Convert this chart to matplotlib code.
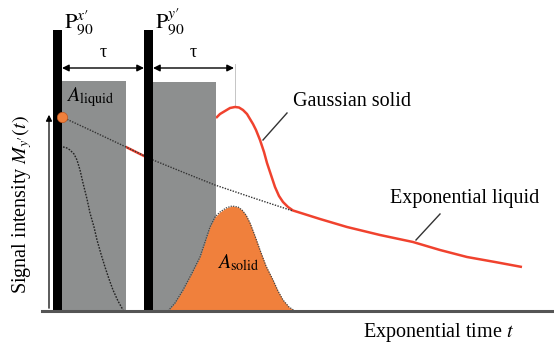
import numpy as np
import matplotlib
matplotlib.use("Agg")
import matplotlib.pyplot as plt
from matplotlib.patches import Rectangle, FancyArrowPatch

plt.rcParams['font.family'] = ['Liberation Serif', 'DejaVu Serif']
plt.rcParams['mathtext.fontset'] = 'stix'

# time axis in arbitrary units, signal measured above the baseline
# pulses (left edge, right edge, height)
pulse_x = [(53, 62), (144, 153)]
pulse_top = 281
# acquisition windows (dead time shading)
window_x = [(62, 126), (153, 216)]
window_top = [230, 229]

# liquid exponential decay (dotted reference)
t_liq = [62, 90, 126, 153, 185, 215, 255, 293]
s_liq = [194, 181, 164, 151, 138, 126, 112.5, 100]

# measured signal, gap between the windows
t_gap = [126, 144]
s_gap = [164, 155]

# measured signal after the second pulse: solid echo + liquid tail
t_sig = [216, 220, 225, 230, 235, 239, 243, 247, 250, 253, 256, 260, 264, 267,
         271, 275, 279, 283, 288, 293, 320, 347, 380, 413, 440, 467, 495, 522]
s_sig = [193, 197, 200, 203, 204, 203.5, 201, 197, 192, 187, 181, 171, 159, 148,
         136, 124, 115, 109, 104, 100.5, 92, 84, 76, 69, 61, 54, 49, 44]

# solid gaussian echo area
t_sol = [168, 175, 183, 192, 200, 205, 210, 215, 220, 226, 232, 238, 242, 246,
         250, 255, 260, 266, 273, 278, 283, 289, 295]
s_sol = [0, 8, 21, 38, 54, 69, 84, 94, 99, 103, 105, 104, 101, 96,
         88, 75, 61, 45, 31, 20, 11, 4, 0]

# solid FID decaying during the first dead time
t_fid = [63, 66, 70, 74, 77, 80, 83, 87, 90, 94, 97, 101, 105, 109, 113, 118, 123]
s_fid = [164, 163.5, 161, 157, 151, 141, 128, 112, 98, 84, 71, 57, 44, 32, 21, 10, 1]

red = '#f0422e'
orange = '#f0803c'
gray = '#8d8f8f'
fs = 14.5

fig = plt.figure(figsize=(5.54, 3.45), dpi=100)
ax = fig.add_axes([0, 0, 1, 1])
ax.set_xlim(0, 554)
ax.set_ylim(-34, 311)
ax.axis('off')

# signal curves (below the shading)
ax.plot(t_gap, s_gap, color=red, lw=1.8, zorder=2)
ax.plot(t_sig, s_sig, color=red, lw=1.8, zorder=2, solid_capstyle='butt')

for (x0, x1), top in zip(window_x, window_top):
    ax.add_patch(Rectangle((x0, 0), x1 - x0, top, facecolor=gray,
                           edgecolor='none', zorder=3))

ax.fill_between(t_sol, 0, s_sol, color=orange, lw=0, zorder=4)
ax.plot(t_sol, s_sol, color='#444444', lw=0.9, ls=(0, (1, 1)), zorder=5)
ax.plot(t_fid, s_fid, color='#222222', lw=1.0, ls=(0, (1.2, 1)), zorder=5)
ax.plot(t_liq, s_liq, color='#333333', lw=1.0, ls=(0, (1, 1)), zorder=5)

for x0, x1 in pulse_x:
    ax.add_patch(Rectangle((x0, 0), x1 - x0, pulse_top, facecolor='black',
                           edgecolor='none', zorder=6))

# baseline and signal axis
ax.plot([42, 554], [0, 0], color='#555555', lw=2.2, zorder=7)
ax.add_patch(FancyArrowPatch((49, 0), (49, 199), arrowstyle='-|>',
                             mutation_scale=9, color='black', lw=0.9, zorder=7))

ax.scatter([t_liq[0]], [s_liq[0]], s=55, color=orange, edgecolor='#c05820',
           lw=0.5, zorder=8)

# tau intervals
for xa, xb in [(62, 144), (153, 234)]:
    ax.add_patch(FancyArrowPatch((xa, 243), (xb, 243), arrowstyle='<|-|>',
                                 mutation_scale=10, color='black', lw=1.0,
                                 shrinkA=0, shrinkB=0, zorder=7))
    ax.text((xa + xb) / 2, 250, 'τ', ha='center', va='bottom', fontsize=13)
ax.plot([234.5, 234.5], [204, 247], color='#bbbbbb', lw=0.6, zorder=1)

# labels
ax.text(64, 274, r"$\mathrm{P}_{90}^{x\prime}$", fontsize=16, ha='left', va='bottom')
ax.text(155, 274, r"$\mathrm{P}_{90}^{y\prime}$", fontsize=16, ha='left', va='bottom')
ax.text(66, 214, r"$A_{\mathrm{liquid}}$", fontsize=fs, ha='left', va='center', zorder=9)
ax.text(217, 48, r"$A_{\mathrm{solid}}$", fontsize=fs, ha='left', va='center', zorder=9)

ax.text(293, 209, 'Gaussian solid', fontsize=fs, ha='left', va='center')
ax.plot([287, 263], [198, 171], color='#333333', lw=1.0)
ax.text(390, 113, 'Exponential liquid', fontsize=fs, ha='left', va='center')
ax.plot([440, 416], [97, 71], color='#333333', lw=1.0)

ax.text(363, -22, r'Exponential time $t$', fontsize=fs, ha='left', va='center')
ax.text(22, 106, r"Signal intensity $M_{y\prime}(t)$", fontsize=fs,
        rotation=90, ha='center', va='center')

fig.savefig('out.png', dpi=100)
